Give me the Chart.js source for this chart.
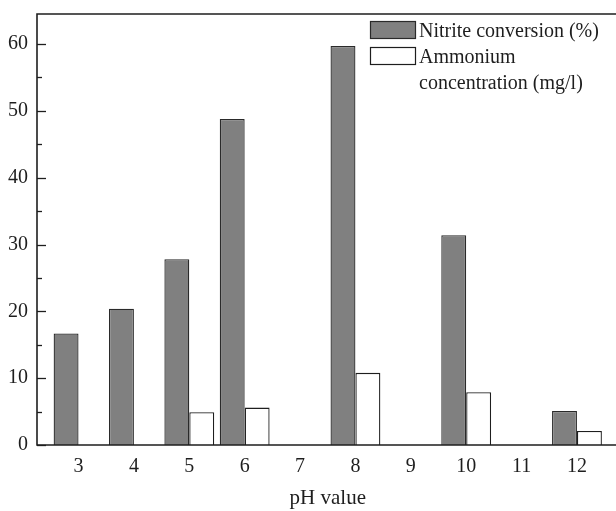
<!DOCTYPE html>
<html>
<head>
<meta charset="utf-8">
<script src="https://cdn.jsdelivr.net/npm/chart.js@4/dist/chart.umd.min.js"></script>
<style>
  html, body { margin: 0; padding: 0; background: #fff; overflow: hidden; }
  #wrap { width: 630px; height: 511px; }
</style>
</head>
<body>
<div id="wrap"><canvas id="c" width="630" height="511"></canvas></div>
<script>
// pH values on the x axis
const phValues = [3, 4, 5, 6, 7, 8, 9, 10, 11, 12];
// Nitrite conversion (%) at each pH
const nitriteConversion = [16.7, 20.4, 27.8, 48.8, null, 59.7, null, 31.4, null, 5.1];
// Ammonium concentration (mg/l) at each pH
const ammoniumConcentration = [null, null, 4.9, 5.6, null, 10.8, null, 7.9, null, 2.1];
// Labelled y ticks and minor tick step
const yTickValues = [0, 10, 20, 30, 40, 50, 60];
const yMinorStep = 5;

const FONT = '"Liberation Serif", "Times New Roman", serif';
const INK = '#1e1e1e';

const toPoints = vals => phValues.map((x, i) => ({ x: x, y: vals[i] }));

// Frame around the plot and inward tick marks on the y axis
const framePlugin = {
  id: 'frame',
  afterDatasetsDraw(chart) {
    const { ctx, chartArea: a, scales: { y } } = chart;
    ctx.save();
    ctx.strokeStyle = INK;
    ctx.lineWidth = 1.6;
    ctx.beginPath();
    ctx.rect(a.left, a.top, a.right - a.left, a.bottom - a.top);
    ctx.stroke();
    ctx.lineWidth = 1.3;
    const maxV = yTickValues[yTickValues.length - 1];
    for (let v = 0; v <= maxV; v += yMinorStep) {
      const py = Math.round(y.getPixelForValue(v)) + 0.5;
      const len = yTickValues.includes(v) ? 9 : 5;
      ctx.beginPath();
      ctx.moveTo(a.left, py);
      ctx.lineTo(a.left + len, py);
      ctx.stroke();
    }
    ctx.restore();
  }
};

// Legend box in the upper right corner, labels may span several lines
const legendPlugin = {
  id: 'boxLegend',
  afterDraw(chart) {
    const { ctx } = chart;
    const x0 = 370, boxW = 45, boxH = 17, textX = 419;
    const lineH = 25.5;
    let top = 21;
    ctx.save();
    ctx.font = '20px ' + FONT;
    ctx.textBaseline = 'alphabetic';
    chart.data.datasets.forEach(ds => {
      ctx.fillStyle = ds.backgroundColor;
      ctx.fillRect(x0, top, boxW, boxH);
      ctx.strokeStyle = ds.borderColor;
      ctx.lineWidth = 1.2;
      ctx.strokeRect(x0 + 0.5, top + 0.5, boxW, boxH);
      ctx.fillStyle = INK;
      const lines = ds.label.split('\n');
      lines.forEach((t, k) => {
        ctx.fillText(t, textX, top + 16 + k * lineH);
      });
      top += lines.length * lineH + 0.5;
    });
    ctx.restore();
  }
};

new Chart(document.getElementById('c'), {
  type: 'bar',
  data: {
    datasets: [
      {
        label: 'Nitrite conversion (%)',
        data: toPoints(nitriteConversion),
        backgroundColor: '#808080',
        borderColor: '#2a2a2a',
        borderWidth: 1.3
      },
      {
        label: 'Ammonium\nconcentration (mg/l)',
        data: toPoints(ammoniumConcentration),
        backgroundColor: '#ffffff',
        borderColor: '#1e1e1e',
        borderWidth: 1.3
      }
    ]
  },
  options: {
    responsive: false,
    animation: false,
    devicePixelRatio: 1,
    categoryPercentage: 0.9,
    barPercentage: 1.0,
    layout: { padding: { top: 14, right: 11.5, left: 0, bottom: 0 } },
    plugins: {
      legend: { display: false },
      tooltip: { enabled: false }
    },
    scales: {
      x: {
        type: 'linear',
        offset: false,
        min: 2.25,
        max: 12.75,
        grid: { display: false, drawTicks: false },
        border: { display: false },
        afterBuildTicks: s => { s.ticks = phValues.map(v => ({ value: v })); },
        afterFit: s => { s.height = 66; s.paddingLeft = 0; s.paddingRight = 0; },
        ticks: {
          padding: 10,
          color: INK,
          font: { family: FONT, size: 20 },
          maxRotation: 0,
          autoSkip: false
        },
        title: {
          display: true,
          text: 'pH value',
          color: INK,
          font: { family: FONT, size: 21 },
          padding: { top: 12, bottom: 0 }
        }
      },
      y: {
        min: 0,
        max: 64.5,
        grid: { display: false, drawTicks: false },
        border: { display: false },
        afterBuildTicks: s => { s.ticks = yTickValues.map(v => ({ value: v })); },
        afterFit: s => { s.width = 37; s.paddingTop = 0; s.paddingBottom = 0; },
        ticks: {
          padding: 9,
          color: INK,
          font: { family: FONT, size: 20 }
        }
      }
    }
  },
  plugins: [framePlugin, legendPlugin]
});
</script>
</body>
</html>
